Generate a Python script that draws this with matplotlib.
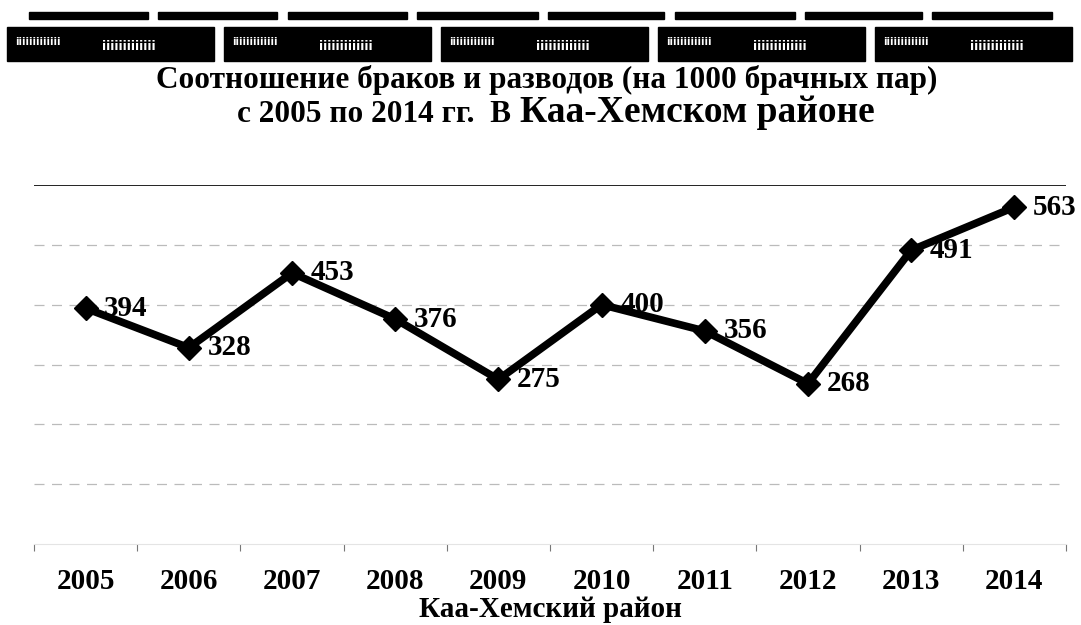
import matplotlib
matplotlib.use('Agg')
import matplotlib.pyplot as plt
from matplotlib.patches import Rectangle
import numpy as np

years = ['2005', '2006', '2007', '2008', '2009', '2010', '2011', '2012', '2013', '2014']
ratio = [394, 328, 453, 376, 275, 400, 356, 268, 491, 563]
grid_levels = [100, 200, 300, 400, 500]

plt.rcParams['font.family'] = ['Liberation Serif', 'DejaVu Serif']
plt.rcParams['font.weight'] = 'bold'

fig = plt.figure(figsize=(10.81, 6.25), dpi=100)

# scanned header: thin bars and black boxes with white "text"
W, H = 1081.0, 625.0
thin = [(29, 148), (158, 277), (288, 407), (417, 538), (548, 664), (675, 795), (805, 922), (932, 1052)]
for x0, x1 in thin:
    fig.add_artist(Rectangle((x0 / W, 1 - 19 / H), (x1 - x0) / W, 7 / H,
                             transform=fig.transFigure, color='black'))
boxes = [(7, 214), (224, 431), (441, 648), (658, 865), (875, 1072)]
for x0, x1 in boxes:
    fig.add_artist(Rectangle((x0 / W, 1 - 61 / H), (x1 - x0) / W, 34 / H,
                             transform=fig.transFigure, color='black'))
    fig.text((x0 + 8) / W, 1 - 42 / H, 'iiiiiiiiiiiii', color='white', fontsize=7,
             fontfamily='DejaVu Sans', va='center', ha='left')
    fig.text((x0 + 95) / W, 1 - 47 / H, 'iiiiiiiiiiiii', color='white', fontsize=9,
             fontfamily='DejaVu Sans', va='center', ha='left')

fig.text(547 / W, 1 - 88 / H, 'Соотношение браков и разводов (на 1000 брачных пар)',
         ha='center', va='baseline', fontsize=22.5, fontweight='bold')
fig.text(511 / W, 1 - 122 / H, 'с 2005 по 2014 гг.  В', ha='right', va='baseline',
         fontsize=22.5, fontweight='bold')
fig.text(520 / W, 1 - 122 / H, 'Каа-Хемском районе', ha='left', va='baseline',
         fontsize=27, fontweight='bold')

ax = fig.add_axes([34 / W, 1 - 544 / H, (1066 - 34) / W, (544 - 185) / H])
x = np.arange(len(years))
ax.plot(x, ratio, color='black', lw=5.5, marker='D', markersize=12, zorder=3)
for xi, v in zip(x, ratio):
    ax.text(xi + 0.18, v, str(v), ha='left', va='center', fontsize=21,
            fontweight='bold', zorder=4)

for g in grid_levels:
    ax.axhline(g, color='#bbbbbb', lw=0.9, ls=(0, (8, 6)), zorder=1)
ax.axhline(600, color='#222222', lw=1.4, zorder=1)

ax.set_xlim(-0.5, len(years) - 0.5)
ax.set_ylim(0, 600)
ax.set_yticks([])
ax.set_xticks(np.arange(-0.5, len(years)), minor=False)
ax.set_xticklabels([])
ax.set_xticks(x, minor=True)
ax.set_xticklabels(years, minor=True, fontsize=21, fontweight='bold')
ax.tick_params(axis='x', which='major', length=5, color='#777777', direction='out')
ax.tick_params(axis='x', which='minor', length=0, pad=17)
for s in ['top', 'left', 'right']:
    ax.spines[s].set_visible(False)
ax.spines['bottom'].set_color('#e4e4e4')
ax.set_xlabel('Каа-Хемский район', fontsize=21, fontweight='bold')
ax.xaxis.set_label_coords(0.5, (544 - 617) / 359.0)
ax.xaxis.label.set_va('baseline')

fig.savefig('out.png', dpi=100)
